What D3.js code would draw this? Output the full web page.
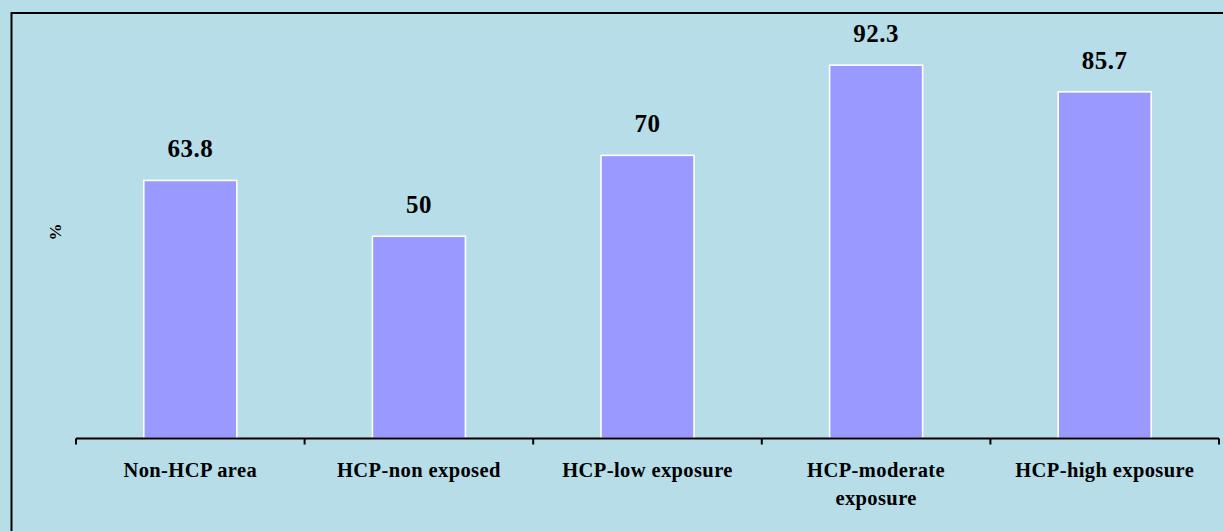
<!DOCTYPE html>
<html>
<head>
<meta charset="utf-8">
<script src="https://cdn.jsdelivr.net/npm/d3@7"></script>
<style>
  html, body { margin: 0; padding: 0; background: #b6dde8; }
  svg { display: block; }
  text { font-family: "Liberation Serif", "Times New Roman", serif; font-weight: bold; fill: #000; }
</style>
</head>
<body>
<svg id="chart" width="1223" height="531"></svg>
<script>
// Share of respondents (%) by area / exposure group
const categories = ["Non-HCP area", "HCP-non exposed", "HCP-low exposure", "HCP-moderate exposure", "HCP-high exposure"];
const categoryLines = [["Non-HCP area"], ["HCP-non exposed"], ["HCP-low exposure"], ["HCP-moderate", "exposure"], ["HCP-high exposure"]];
const values = [63.8, 50, 70, 92.3, 85.7];
const yLabel = "%";

const W = 1223, H = 531;
const svg = d3.select("#chart");

// background and outer frame
svg.append("rect").attr("x", 0).attr("y", 0).attr("width", W).attr("height", H).attr("fill", "#b6dde8");
svg.append("rect")
  .attr("x", 11.5).attr("y", 13).attr("width", W + 20).attr("height", H + 20)
  .attr("fill", "none").attr("stroke", "#000").attr("stroke-width", 2);

const plot = { left: 76, right: 1219, top: 34, bottom: 438.5 };

const x = d3.scaleBand().domain(categories).range([plot.left, plot.right]).paddingInner(0.593).paddingOuter(0.2965);
const xTicks = d3.scaleBand().domain(categories).range([plot.left, plot.right]);
const y = d3.scaleLinear().domain([0, 100]).range([plot.bottom, plot.top]);

// bars
svg.append("g").selectAll("rect").data(values).join("rect")
  .attr("x", (d, i) => x(categories[i]))
  .attr("y", d => y(d))
  .attr("width", x.bandwidth())
  .attr("height", d => plot.bottom - y(d))
  .attr("fill", "#9999ff")
  .attr("stroke", "#ffffff")
  .attr("stroke-width", 1.6);

// value labels
svg.append("g").selectAll("text").data(values).join("text")
  .attr("x", (d, i) => x(categories[i]) + x.bandwidth() / 2)
  .attr("y", d => y(d) - 23)
  .attr("text-anchor", "middle")
  .style("font-size", "25px")
  .style("letter-spacing", "0.5px")
  .text(d => d);

// x axis line with tick marks at band boundaries
const axis = svg.append("g");
axis.append("line")
  .attr("x1", plot.left).attr("x2", plot.right)
  .attr("y1", plot.bottom).attr("y2", plot.bottom)
  .attr("stroke", "#000").attr("stroke-width", 2);
const bounds = categories.map(c => xTicks(c)).concat([plot.right]);
axis.selectAll("line.tick").data(bounds).join("line")
  .attr("class", "tick")
  .attr("x1", d => d).attr("x2", d => d)
  .attr("y1", plot.bottom).attr("y2", plot.bottom + 6)
  .attr("stroke", "#000").attr("stroke-width", 2);

// category labels
const lbl = svg.append("g").selectAll("text").data(categories).join("text")
  .attr("text-anchor", "middle")
  .attr("x", c => xTicks(c) + xTicks.bandwidth() / 2)
  .attr("y", 477)
  .style("font-size", "20.5px")
  .style("letter-spacing", "0.4px");
lbl.each(function(c, i) {
  const t = d3.select(this);
  categoryLines[i].forEach((line, j) => {
    t.append("tspan")
      .attr("x", xTicks(c) + xTicks.bandwidth() / 2)
      .attr("dy", j === 0 ? 0 : 28)
      .text(line);
  });
});

// y axis title
svg.append("text")
  .attr("transform", "translate(61,232) rotate(-90)")
  .attr("text-anchor", "middle")
  .style("font-size", "17px")
  .text(yLabel);
</script>
</body>
</html>
